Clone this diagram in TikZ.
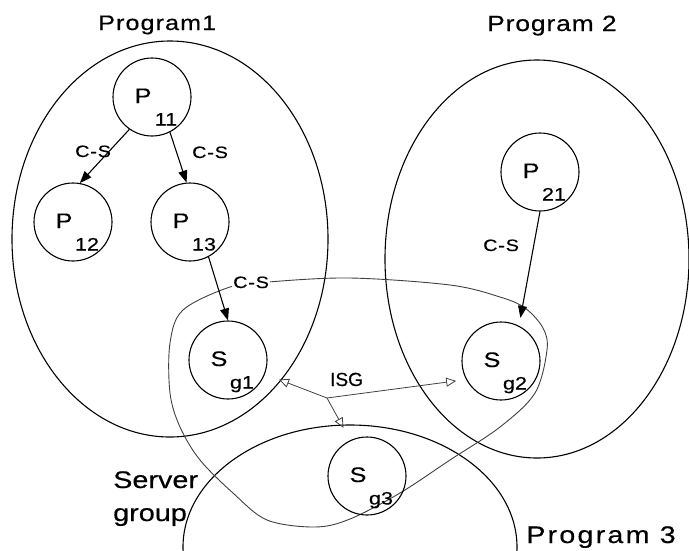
\documentclass[tikz,border=0pt]{standalone}
\usepackage{fontspec}
\setmainfont{Liberation Sans}
\newfontfamily\fStr{Liberation Sans}[FakeStretch=1.2,FakeBold=0.4]
\newfontfamily\fStrA{Liberation Sans}[FakeStretch=1.2,FakeBold=0.4,LetterSpace=5]
\newfontfamily\fStrB{Liberation Sans}[FakeStretch=1.2,FakeBold=0.4,LetterSpace=4]
\newfontfamily\fStrC{Liberation Sans}[FakeStretch=1.2,FakeBold=0.4,LetterSpace=9]
\newfontfamily\fPlain{Liberation Sans}[FakeBold=0.4]
\usetikzlibrary{arrows.meta}
\begin{document}
\begin{tikzpicture}[x=1pt,y=-1pt,
  region/.style={line width=1.1pt},
  proc/.style={circle,draw,line width=1.1pt,minimum size=78pt,inner sep=0pt},
  main/.style={label={[shift={(-9,-1.5)},inner sep=0pt,text height=15pt,text depth=0pt,font=\fStr\fontsize{21}{21}\selectfont]center:#1}},
  sub/.style={label={[shift={(14,24)},inner sep=0pt,text height=13pt,text depth=4pt,font=\fStr\fontsize{18}{18}\selectfont]center:#1}},
  cs/.style={line width=1.1pt,-{Triangle[length=12pt,width=9pt]}},
  isgarrow/.style={line width=0.8pt,black!75,-{Triangle[open,length=10pt,width=9pt]}},
  sgline/.style={line width=0.9pt,black!75},
  lab/.style={inner sep=0pt,anchor=base west},
  cslab/.style={lab,font=\fStrA\fontsize{16.5}{16.5}\selectfont},
]
\useasboundingbox (0,0) rectangle (689,550);
\begin{scope}
\clip (0,0) rectangle (689,550);
% programs
\draw[region] (170,239) ellipse [x radius=158pt, y radius=198pt];
\draw[region] (537,259) ellipse [x radius=152pt, y radius=199pt];
\draw[region] (350,547) ellipse [x radius=167pt, y radius=122pt];
% server group
\draw[sgline] plot[smooth cycle,tension=0.55] coordinates {
 (268,282) (350,278) (450,285) (500,297) (525,308) (543,328) (547,350)
 (535,393) (500,427) (450,460) (400,493) (350,519) (315,527) (267,520)
 (233,493) (200,460) (180,427) (170,393) (170,343) (183,310) (230,287)};
\end{scope}

% processes and servers
\node[proc,main=P,sub=11] (p11) at (152,97) {};
\node[proc,main=P,sub=12] (p12) at (73,222) {};
\node[proc,main=P,sub=13] (p13) at (190,222) {};
\node[proc,main=P,sub=21] (p21) at (540,172) {};
\node[proc,main=S,sub=g1] (sg1) at (228,360) {};
\node[proc,main=S,sub=g2] (sg2) at (501,361) {};
\node[proc,main=S,sub=g3] (sg3) at (367,476) {};

% C-S arrows
\draw[cs] (p11.235) -- (p12.80);
\draw[cs] (p11.297) -- (p13.95);
\draw[cs] (p13.298) -- (sg1.north);
\draw[cs, shorten >=8pt] (p21.south) -- (sg2.63);

% ISG
\coordinate (isg) at (327,398);
\draw[isgarrow, shorten >=15pt] (isg) -- (sg1);
\draw[isgarrow, shorten >=10pt] (isg) -- (sg2.208);
\draw[isgarrow, shorten >=14pt] (isg) -- (sg3.115);

% labels
\node[cslab] (cs1) at (75,157) {C-S};
\node[cslab] (cs2) at (192,158) {C-S};
\node[cslab,fill=white,inner sep=1pt] (cs3) at (232,288) {C-S};
\node[cslab] (cs4) at (483,251) {C-S};
\node[lab,font=\fPlain\fontsize{19}{19}\selectfont] (isglab) at (330,386) {ISG};
\node[lab,font=\fStrA\fontsize{21}{21}\selectfont] (t1) at (98,30) {Program1};
\node[lab,font=\fStrB\fontsize{22}{22}\selectfont] (t2) at (487,31) {Program 2};
\node[lab,font=\fStrC\fontsize{24}{24}\selectfont] (t3) at (526,543) {Program 3};
\node[lab,font=\fStr\fontsize{24}{24}\selectfont] (t4) at (113,488) {Server};
\node[lab,font=\fStr\fontsize{24}{24}\selectfont] (t5) at (113,521) {group};
\end{tikzpicture}
\end{document}
